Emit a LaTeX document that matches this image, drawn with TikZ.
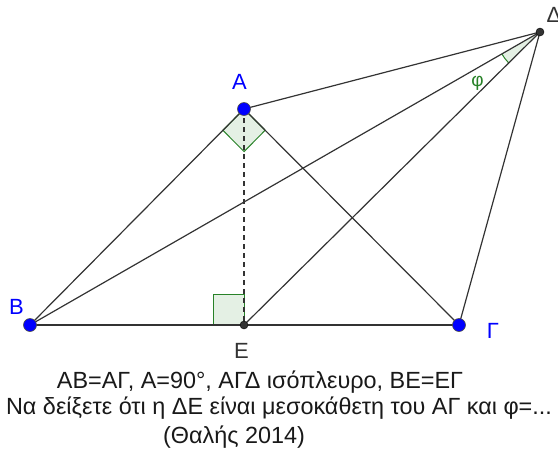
\documentclass[tikz,border=0pt]{standalone}
\usepackage{fontspec}
\setmainfont{Liberation Sans}
\usetikzlibrary{calc,angles}
\definecolor{ln}{RGB}{51,51,51}
\definecolor{ptblue}{RGB}{0,0,255}
\definecolor{angdraw}{RGB}{40,130,40}
\definecolor{angfill}{RGB}{228,240,228}
\tikzset{
  seg/.style={draw=ln, line width=1.2pt},
  bigpt/.style={circle, fill=ptblue, draw=black!70, line width=0.6pt, minimum size=13pt, inner sep=0pt},
  smallpt/.style={circle, fill=ln, draw=black, line width=0.4pt, minimum size=8pt, inner sep=0pt},
  lblue/.style={text=ptblue, font=\fontsize{22}{24}\selectfont, anchor=base},
  lgray/.style={text=ln, font=\fontsize{22}{24}\selectfont, anchor=base},
  angmark/.style={draw=angdraw, fill=angfill, line width=1pt},
  caption/.style={text=black!90, font=\fontsize{23.4}{25}\selectfont, anchor=base}
}
\begin{document}
\begin{tikzpicture}[x=1pt,y=-1pt]
\useasboundingbox (0,0) rectangle (558,464);
\coordinate (A) at (244,109);
\coordinate (B) at (30,325);
\coordinate (G) at (459,325);
\coordinate (E) at (244,325);
\coordinate (D) at (540,32);
% angle marks
\path[angmark] (A) -- ($(A)!30pt!(B)$) -- ($($(A)!30pt!(B)$)+($(A)!30pt!(G)$)-(A)$) -- ($(A)!30pt!(G)$) -- cycle;
\path[angmark] (E) -- ($(E)!31pt!(B)$) -- ($($(E)!31pt!(B)$)+($(E)!31pt!(A)$)-(E)$) -- ($(E)!31pt!(A)$) -- cycle;
\pic[draw=angdraw, fill=angfill, line width=1pt, angle radius=44pt] {angle = B--D--E};
% segments
\draw[seg] (A) -- (B);
\draw[seg] (A) -- (G);
\draw[seg] (B) -- (G);
\draw[seg] (A) -- (D);
\draw[seg] (D) -- (G);
\draw[seg] (D) -- (B);
\draw[seg] (D) -- (E);
\draw[seg, dash pattern=on 5pt off 4pt] (A) -- (E);
% points
\node[bigpt] (pA) at (A) {};
\node[bigpt] (pB) at (B) {};
\node[bigpt] (pG) at (G) {};
\node[smallpt] (pE) at (E) {};
\node[smallpt] (pD) at (D) {};
% labels
\node[lblue] (lA) at (239.5,89) {Α};
\node[lblue] (lB) at (16.5,314) {Β};
\node[lblue] (lG) at (493,338) {Γ};
\node[lgray] (lE) at (241.5,358) {Ε};
\node[lgray] (lD) at (554,22) {Δ};
\node[text=angdraw, font=\fontsize{19}{21}\selectfont] (phi) at (477.5,83) {φ};
% caption
\node[caption] (t1) at (260,388) {ΑΒ=ΑΓ, Α=90°, ΑΓΔ ισόπλευρο, ΒΕ=ΕΓ};
\node[caption] (t2) at (279,414) {Να δείξετε ότι η ΔΕ είναι μεσοκάθετη του ΑΓ και φ=...};
\node[caption] (t3) at (234,443) {(Θαλής 2014)};
\end{tikzpicture}
\end{document}
